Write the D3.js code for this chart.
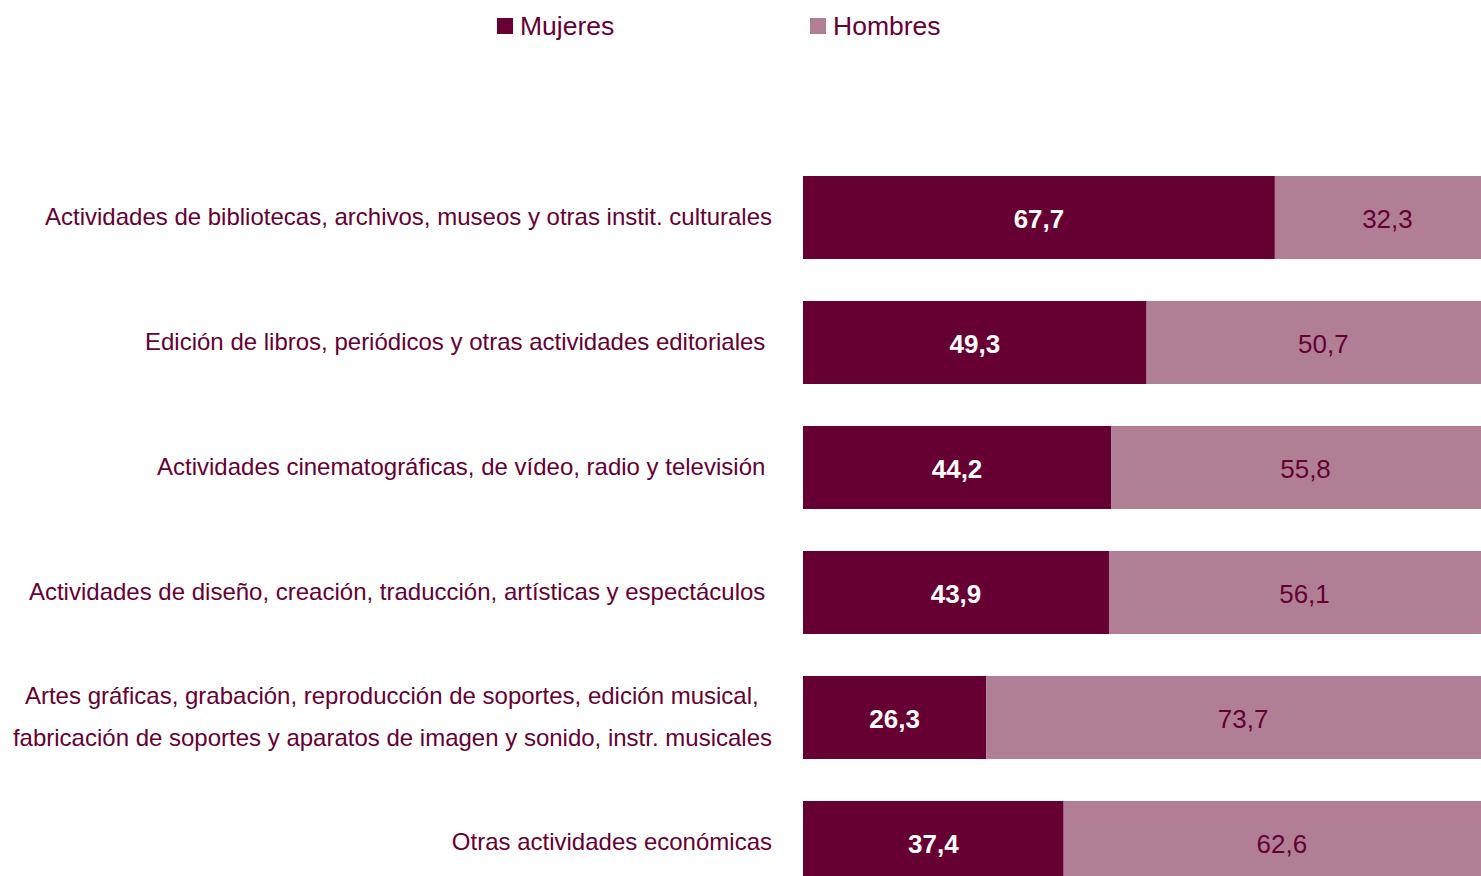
<!DOCTYPE html>
<html><head><meta charset="utf-8">
<script src="https://cdn.jsdelivr.net/npm/d3@7"></script>
<style>
html,body{margin:0;padding:0;background:#fff;overflow:hidden;}
svg{display:block;font-family:"Liberation Sans",Arial,sans-serif;}
</style></head><body>
<svg id="chart" width="1481" height="876"></svg>
<script>
const categories = [
  ["Actividades de bibliotecas, archivos, museos y otras instit. culturales"],
  ["Edición de libros, periódicos y otras actividades editoriales "],
  ["Actividades cinematográficas, de vídeo, radio y televisión "],
  ["Actividades de diseño, creación, traducción, artísticas y espectáculos "],
  ["Artes gráficas, grabación, reproducción de soportes, edición musical,  ", "fabricación de soportes y aparatos de imagen y sonido, instr. musicales"],
  ["Otras actividades económicas"]
];
const mujeres = [67.7, 49.3, 44.2, 43.9, 26.3, 37.4];
const hombres = [32.3, 50.7, 55.8, 56.1, 73.7, 62.6];
const seriesNames = ["Mujeres", "Hombres"];
const colors = ["#660033", "#b07f96"];

const svg = d3.select("#chart");
const keys = categories.map((c, i) => i);
const x = d3.scaleLinear().domain([0, 100]).range([803, 1500]);
const y = d3.scaleBand().domain(keys).range([155, 905]).paddingInner(0.336).paddingOuter(0.168);

const data = keys.map(i => ({i, Mujeres: mujeres[i], Hombres: hombres[i]}));
const stack = d3.stack().keys(seriesNames)(data);

stack.forEach((layer, li) => {
  const g = svg.append("g");
  g.selectAll("rect").data(layer).join("rect")
    .attr("x", d => x(d[0]))
    .attr("y", d => y(d.data.i))
    .attr("width", d => x(d[1]) - x(d[0]))
    .attr("height", y.bandwidth())
    .attr("fill", colors[li]);
  g.selectAll("text").data(layer).join("text")
    .attr("x", d => (x(d[0]) + x(d[1])) / 2)
    .attr("y", d => y(d.data.i) + y.bandwidth() / 2 + 1)
    .attr("dy", "0.35em")
    .attr("text-anchor", "middle")
    .attr("font-size", 26)
    .attr("font-weight", li === 0 ? "bold" : "normal")
    .attr("fill", li === 0 ? "#ffffff" : "#660033")
    .text(d => d3.format(".1f")(d[1] - d[0]).replace(".", ","));
});

// category labels
const lab = svg.append("g");
categories.forEach((lines, i) => {
  const cy = y(i) + y.bandwidth() / 2;
  const lh = 42;
  lines.forEach((line, k) => {
    lab.append("text")
      .attr("x", 772)
      .attr("y", cy + (k - (lines.length - 1) / 2) * lh - 1)
      .attr("dy", "0.35em")
      .attr("text-anchor", "end")
      .attr("font-size", 24)
      .attr("fill", "#660033")
      .style("white-space", "pre")
      .text(line);
  });
});

// legend
const legendX = [497, 810];
seriesNames.forEach((n, i) => {
  const g = svg.append("g").attr("transform", `translate(${legendX[i]},0)`);
  g.append("rect").attr("x", 0).attr("y", 18).attr("width", 16).attr("height", 16).attr("fill", colors[i]);
  g.append("text").attr("x", 23).attr("y", 26).attr("dy", "0.35em")
    .attr("font-size", 26.5).attr("fill", "#660033").text(n);
});
</script>
</body></html>
